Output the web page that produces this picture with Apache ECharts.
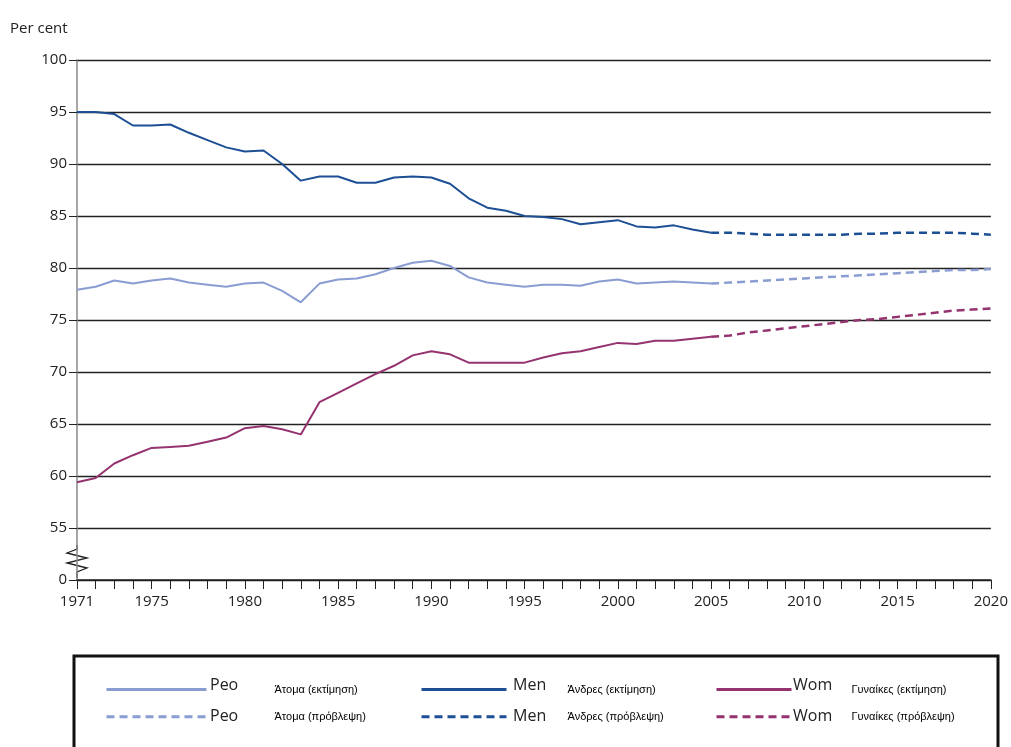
<!DOCTYPE html>
<html lang="en">
<head>
<meta charset="UTF-8">
<title>Chart</title>
<script src="https://cdn.jsdelivr.net/npm/echarts@6/dist/echarts.min.js"></script>
</head>
<body style="margin:0;background:#fff;">
<div id="main" style="width:1011px;height:747px;"></div>
<script>
var years = [];
for (var y = 1971; y <= 2020; y++) years.push(String(y));

var menEst = [95.0,95.0,94.8,93.7,93.7,93.8,93.0,92.3,91.6,91.2,91.3,90.0,88.4,88.8,88.8,88.2,88.2,88.7,88.8,88.7,88.1,86.7,85.8,85.5,85.0,84.9,84.7,84.2,84.4,84.6,84.0,83.9,84.1,83.7,83.4];
var menProj = [83.4,83.4,83.3,83.2,83.2,83.2,83.2,83.2,83.3,83.3,83.4,83.4,83.4,83.4,83.3,83.2];
var peopleEst = [77.9,78.2,78.8,78.5,78.8,79.0,78.6,78.4,78.2,78.5,78.6,77.8,76.7,78.5,78.9,79.0,79.4,80.0,80.5,80.7,80.2,79.1,78.6,78.4,78.2,78.4,78.4,78.3,78.7,78.9,78.5,78.6,78.7,78.6,78.5];
var peopleProj = [78.5,78.6,78.7,78.8,78.9,79.0,79.1,79.2,79.3,79.4,79.5,79.6,79.7,79.8,79.8,79.9];
var womenEst = [59.4,59.8,61.2,62.0,62.7,62.8,62.9,63.3,63.7,64.6,64.8,64.5,64.0,67.1,68.0,68.9,69.8,70.6,71.6,72.0,71.7,70.9,70.9,70.9,70.9,71.4,71.8,72.0,72.4,72.8,72.7,73.0,73.0,73.2,73.4];
var womenProj = [73.4,73.5,73.8,74.0,74.2,74.4,74.6,74.8,75.0,75.1,75.3,75.5,75.7,75.9,76.0,76.1];

var colPeople = '#8a9dd3', colMen = '#1d4f95', colWomen = '#94336f';
var projStart = 2005 - 1971;

function proj(arr) {
    var out = [];
    for (var i = 0; i < projStart; i++) out.push(null);
    return out.concat(arr);
}
function line(name, data, color, dashed) {
    return {
        name: name, type: 'line', data: data, symbol: 'none',
        lineStyle: { color: color, width: dashed ? 2.5 : 2, type: dashed ? [8, 5] : 'solid' },
        itemStyle: { color: color }
    };
}
function legendAt(left, w, pad, names) {
    return {
        orient: 'vertical', left: left, top: 679, itemWidth: w, itemHeight: 14, itemGap: 16,
        data: names, selectedMode: false,
        itemStyle: { opacity: 0 },
        lineStyle: { width: 3 },
        textStyle: { fontFamily: 'Liberation Sans', fontSize: 11, color: '#000', padding: [0, 0, 0, pad] }
    };
}
function eng(x, y, t) {
    return { type: 'text', left: x, top: y, style: { text: t, fontFamily: 'Open Sans', fontSize: 16, fill: '#222' } };
}

var chart = echarts.init(document.getElementById('main'));
chart.setOption({
    animation: false,
    grid: { left: 77, right: 16, top: 60, bottom: 167 },
    xAxis: {
        type: 'category', data: years, boundaryGap: false,
        axisLine: { lineStyle: { color: '#222', width: 1.5 } },
        axisTick: { show: true, interval: 0, length: 9, lineStyle: { color: '#222' } },
        axisLabel: {
            interval: function (i, v) { return v === '1971' || Number(v) % 5 === 0; },
            fontFamily: 'Open Sans', fontSize: 15, color: '#222', margin: 14
        }
    },
    yAxis: {
        type: 'value', min: 50, max: 100, interval: 5,
        axisLine: { show: true, lineStyle: { color: '#888', width: 1.5 } },
        axisTick: { show: true, length: 8, lineStyle: { color: '#222' } },
        axisLabel: {
            formatter: function (v) { return v === 50 ? '0' : String(v); },
            fontFamily: 'Open Sans', fontSize: 15, color: '#222', margin: 10
        },
        splitLine: { lineStyle: { color: '#222', width: 1.3 } },
        name: 'Per cent', nameLocation: 'end', nameGap: 24,
        nameTextStyle: { fontFamily: 'Open Sans', fontSize: 15, color: '#222', align: 'left', padding: [0, 0, 0, -67] }
    },
    legend: [
        legendAt(100, 100, 63, ['Άτομα (εκτίμηση)', 'Άτομα (πρόβλεψη)']),
        legendAt(415, 85, 56, ['Άνδρες (εκτίμηση)', 'Άνδρες (πρόβλεψη)']),
        legendAt(710, 75, 55, ['Γυναίκες (εκτίμηση)', 'Γυναίκες (πρόβλεψη)'])
    ],
    graphic: [
        { type: 'rect', shape: { x: 74, y: 656, width: 924, height: 100 }, style: { fill: 'none', stroke: '#111', lineWidth: 3 } },
        { type: 'rect', shape: { x: 70, y: 545, width: 14, height: 28 }, style: { fill: '#fff' } },
        { type: 'polyline', shape: { points: [[77, 545], [77, 549], [67, 553], [87, 558], [67, 563], [87, 568], [77, 572], [77, 578]] }, style: { stroke: '#222', lineWidth: 1.3, fill: 'none' } },
        eng(210, 677, 'Peo'), eng(210, 708, 'Peo'),
        eng(513, 677, 'Men'), eng(513, 708, 'Men'),
        eng(793, 677, 'Wom'), eng(793, 708, 'Wom')
    ],
    series: [
        line('Άτομα (εκτίμηση)', peopleEst, colPeople, false),
        line('Άτομα (πρόβλεψη)', proj(peopleProj), colPeople, true),
        line('Άνδρες (εκτίμηση)', menEst, colMen, false),
        line('Άνδρες (πρόβλεψη)', proj(menProj), colMen, true),
        line('Γυναίκες (εκτίμηση)', womenEst, colWomen, false),
        line('Γυναίκες (πρόβλεψη)', proj(womenProj), colWomen, true)
    ]
});
</script>
</body>
</html>
